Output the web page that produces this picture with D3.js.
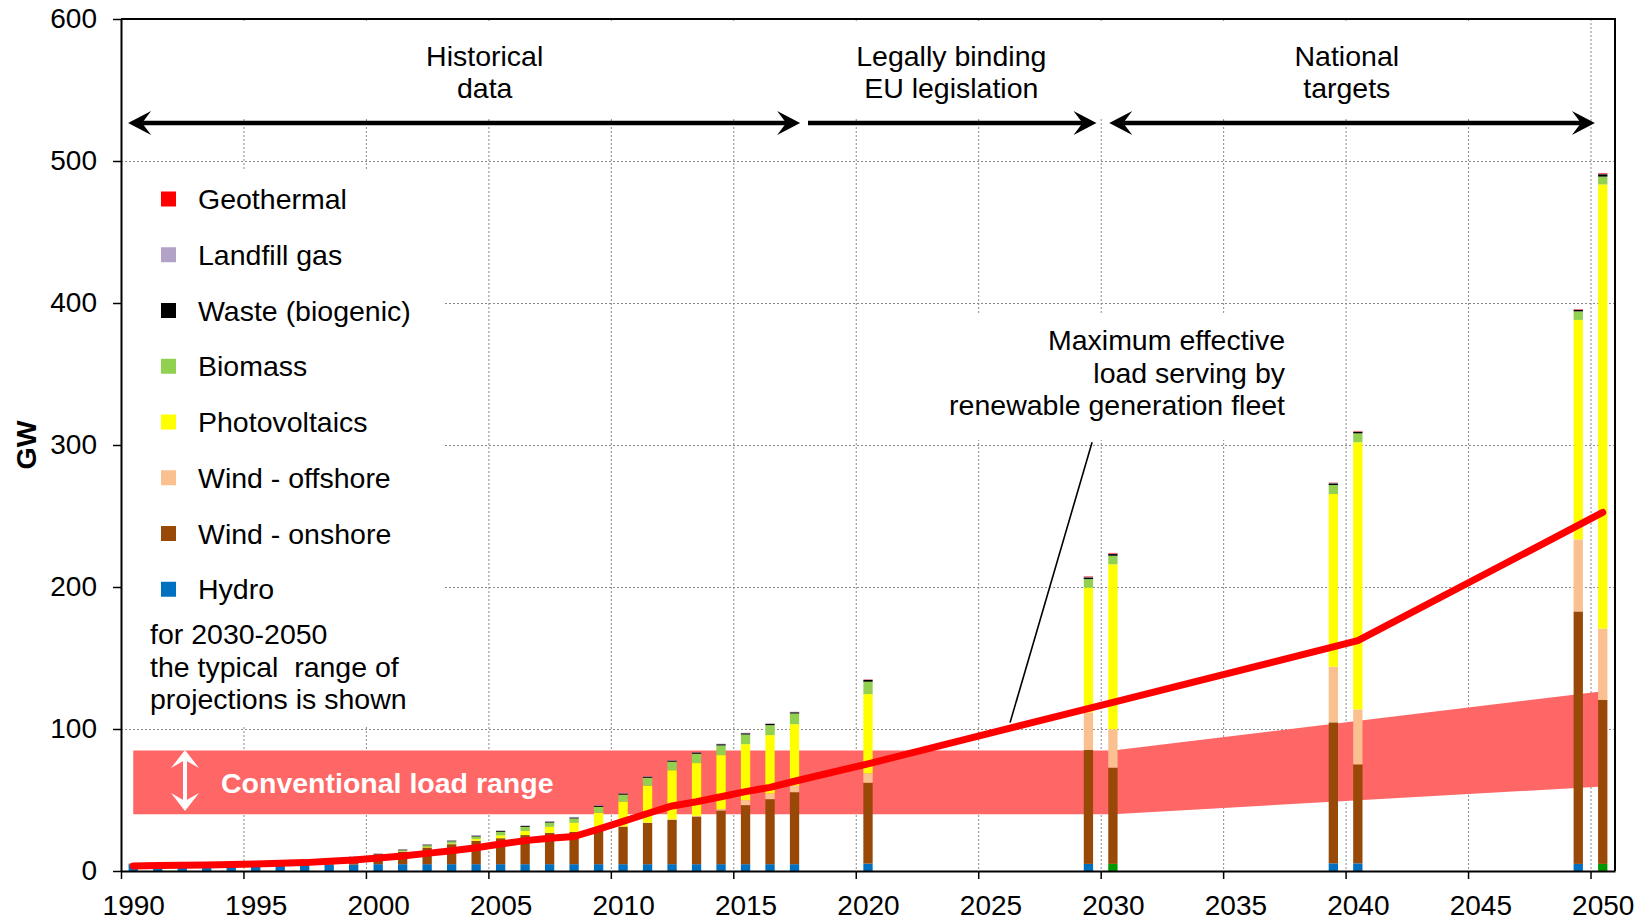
<!DOCTYPE html>
<html>
<head>
<meta charset="utf-8">
<script src="https://cdn.jsdelivr.net/npm/d3@7"></script>
<style>
  html, body { margin: 0; padding: 0; background: #ffffff; }
  svg { display: block; font-family: "Liberation Sans", Arial, Helvetica, sans-serif; }
</style>
</head>
<body>
<svg id="chart" width="1649" height="921"></svg>
<script>
// ---------------------------------------------------------------
// Installed renewable capacity (GW) per bar, stacked bottom to top
// ---------------------------------------------------------------
const barYears = [1990, 1991, 1992, 1993, 1994, 1995, 1996, 1997, 1998, 1999,
                  2000, 2001, 2002, 2003, 2004, 2005, 2006, 2007, 2008, 2009,
                  2010, 2011, 2012, 2013, 2014, 2015, 2016, 2017,
                  2020, 2030, 2030, 2040, 2040, 2050, 2050];
// "year" = one bar for the calendar year, "low"/"high" = projection pair around the tick
const barCase = ["year", "year", "year", "year", "year", "year", "year", "year", "year", "year",
                 "year", "year", "year", "year", "year", "year", "year", "year", "year", "year",
                 "year", "year", "year", "year", "year", "year", "year", "year",
                 "year", "low", "high", "low", "high", "low", "high"];

const hydro      = [4.5, 4.5, 4.5, 4.5, 4.5, 4.5, 4.5, 4.5, 4.5, 4.5,
                    4.8, 4.8, 4.8, 4.8, 4.8, 4.8, 4.8, 4.8, 4.8, 4.8,
                    4.8, 4.8, 4.8, 4.8, 4.8, 4.8, 4.8, 4.8,
                    5.2, 5.0, 5.0, 5.4, 5.4, 5.0, 5.0];
const windOn     = [0.1, 0.1, 0.2, 0.3, 0.6, 1.1, 1.5, 2.1, 2.9, 4.4,
                    6.1, 8.8, 11.8, 14.1, 16.5, 18.3, 20.5, 22.1, 22.8, 25.9,
                    26.5, 29.1, 31.3, 33.6, 37.8, 41.6, 45.8, 50.7,
                    57.0, 80.2, 67.8, 99.3, 69.7, 177.8, 115.5];
const windOff    = [0, 0, 0, 0, 0, 0, 0, 0, 0, 0,
                    0, 0, 0, 0, 0, 0, 0, 0, 0, 0,
                    0.1, 0.2, 0.3, 0.5, 1.0, 3.5, 4.0, 4.5,
                    6.6, 26.5, 27.0, 39.2, 38.7, 50.7, 50.2];
const pv         = [0, 0, 0, 0, 0, 0, 0, 0, 0, 0.1,
                    0.1, 0.2, 0.3, 0.4, 1.2, 2.0, 2.8, 4.2, 6.3, 10.3,
                    17.5, 26.0, 34.5, 37.1, 38.0, 39.4, 41.1, 43.4,
                    55.8, 87.8, 116.2, 121.6, 188.1, 154.6, 312.8];
const biomass    = [0.1, 0.1, 0.1, 0.2, 0.2, 0.2, 0.3, 0.3, 0.4, 0.5,
                    0.6, 0.8, 1.2, 1.6, 1.8, 2.5, 3.0, 3.0, 3.1, 4.2,
                    4.9, 5.6, 6.1, 6.6, 6.8, 6.8, 7.0, 7.5,
                    8.7, 6.1, 6.0, 6.3, 6.3, 6.0, 5.5];
const waste      = [0.4, 0.4, 0.4, 0.4, 0.4, 0.5, 0.5, 0.5, 0.5, 0.5,
                    0.5, 0.5, 0.5, 0.5, 0.6, 0.6, 0.6, 0.7, 0.7, 0.8,
                    0.8, 0.8, 0.8, 0.9, 0.9, 0.9, 0.9, 0.9,
                    1.2, 1.2, 1.2, 1.2, 1.0, 1.0, 1.7];
const landfill   = [0.1, 0.1, 0.1, 0.1, 0.2, 0.2, 0.2, 0.2, 0.2, 0.2,
                    0.3, 0.3, 0.3, 0.3, 0.4, 0.4, 0.4, 0.4, 0.4, 0.4,
                    0.4, 0.4, 0.4, 0.3, 0.3, 0.3, 0.3, 0.3,
                    0.3, 0.4, 0.4, 0.3, 0.4, 0.4, 0.4];
const geothermal = [0, 0, 0, 0, 0, 0, 0, 0, 0, 0,
                    0, 0, 0, 0, 0, 0, 0, 0, 0.01, 0.01,
                    0.01, 0.01, 0.02, 0.03, 0.03, 0.03, 0.04, 0.04,
                    0.2, 0.3, 0.4, 0.2, 0.3, 0.3, 0.4];

// Maximum effective load served by the renewable fleet (GW)
const lineYears  = [1990, 1991, 1992, 1993, 1994, 1995, 1996, 1997, 1998, 1999,
                    2000, 2001, 2002, 2003, 2004, 2005, 2006, 2007, 2008, 2009,
                    2010, 2011, 2012, 2013, 2014, 2015, 2016, 2017,
                    2020, 2030, 2040, 2050];
const lineValues = [3.5, 3.8, 4.0, 4.2, 4.5, 4.9, 5.4, 5.9, 6.8, 7.7,
                    9.2, 10.6, 12.4, 14.3, 16.4, 19.0, 21.4, 23.0, 24.3, 29.5,
                    35.0, 40.5, 45.8, 48.8, 52.3, 55.9, 58.9, 63.2,
                    75.5, 118.7, 162.2, 252.5];

// Conventional load range (GW)
const bandYears = [1990, 2030, 2050];
const bandLow   = [40.0, 40.0, 59.5];
const bandHigh  = [84.8, 84.8, 126.6];

// Axis ticks
const yTicks = [0, 100, 200, 300, 400, 500, 600];
const xTicks = [1990, 1995, 2000, 2005, 2010, 2015, 2020, 2025, 2030, 2035, 2040, 2045, 2050];

// Series definitions (legend is listed top to bottom, stack is bottom to top)
const seriesKeys   = ["hydro", "windOn", "windOff", "pv", "biomass", "waste", "landfill", "geothermal"];
const seriesNames  = ["Hydro", "Wind - onshore", "Wind - offshore", "Photovoltaics", "Biomass",
                      "Waste (biogenic)", "Landfill gas", "Geothermal"];
const seriesValues = [hydro, windOn, windOff, pv, biomass, waste, landfill, geothermal];

// ---------------------------------------------------------------
// Styling
// ---------------------------------------------------------------
const colors = {
  hydro: "#0070c0", windOn: "#984807", windOff: "#fac090", pv: "#ffff00",
  biomass: "#92d050", waste: "#000000", landfill: "#b3a2c7", geothermal: "#ff0000"
};
const hydroAltColor = "#009a00";              // hydro segment of the "high" 2030/2050 bars
const hydroAltBars = new Set(["2030-high", "2050-high"]);
const FONT = 28.5;

// ---------------------------------------------------------------
// Scales
// ---------------------------------------------------------------
const plot = { left: 121, right: 1615, top: 19, bottom: 871 };
const x = d3.scaleLinear().domain([1990, 2051]).range([plot.left, plot.right]);
const y = d3.scaleLinear().domain([0, 600]).range([plot.bottom, plot.top]);
const barWidthYears = 0.38;
const barW = x(1990 + barWidthYears) - x(1990);

// bar centre in year units
function barPos(year, kind) {
  if (kind === "low") return year - 0.5;
  return year + 0.5;
}

const rows = barYears.map((yr, i) => {
  const r = { year: yr, kind: barCase[i], pos: barPos(yr, barCase[i]) };
  seriesKeys.forEach((k, j) => { r[k] = seriesValues[j][i]; });
  return r;
});
const stacked = d3.stack().keys(seriesKeys)(rows);

const svg = d3.select("#chart");

// ---------------------------------------------------------------
// Gridlines
// ---------------------------------------------------------------
const grid = svg.append("g").attr("class", "grid")
  .attr("stroke", "#8a8a8a").attr("stroke-width", 1).attr("stroke-dasharray", "2,2");
grid.selectAll("line.h").data(yTicks.filter(v => v > 0 && v < 600)).join("line")
  .attr("class", "h")
  .attr("x1", plot.left).attr("x2", plot.right)
  .attr("y1", d => y(d) + 0.5).attr("y2", d => y(d) + 0.5);
grid.selectAll("line.v").data(xTicks.filter(v => v > 1990)).join("line")
  .attr("class", "v")
  .attr("x1", d => x(d) + 0.5).attr("x2", d => x(d) + 0.5)
  .attr("y1", plot.top).attr("y2", plot.bottom);

// white panels behind the text blocks
svg.append("rect").attr("x", plot.left + 1).attr("y", 23)
  .attr("width", 1583 - plot.left).attr("height", 94).attr("fill", "#fff");
svg.append("rect").attr("x", plot.left + 1).attr("y", 170)
  .attr("width", 444 - plot.left).attr("height", 555).attr("fill", "#fff");
svg.append("rect").attr("x", 945).attr("y", 313)
  .attr("width", 348).attr("height", 127).attr("fill", "#fff");

// ---------------------------------------------------------------
// Conventional load band
// ---------------------------------------------------------------
const bandData = bandYears.map((yr, i) => ({ pos: yr + 0.5, lo: bandLow[i], hi: bandHigh[i] }));
svg.append("path")
  .datum(bandData)
  .attr("fill", "#ff6666")
  .attr("d", d3.area().x(d => x(d.pos)).y0(d => y(d.lo)).y1(d => y(d.hi)));

// ---------------------------------------------------------------
// Stacked bars
// ---------------------------------------------------------------
const bars = svg.append("g").attr("class", "bars");
stacked.forEach(layer => {
  bars.append("g")
    .selectAll("rect")
    .data(layer)
    .join("rect")
    .attr("x", d => x(d.data.pos) - barW / 2)
    .attr("width", barW)
    .attr("y", d => y(d[1]))
    .attr("height", d => Math.max(0, y(d[0]) - y(d[1])))
    .attr("fill", d => (layer.key === "hydro" && hydroAltBars.has(d.data.year + "-" + d.data.kind))
      ? hydroAltColor : colors[layer.key]);
});

// ---------------------------------------------------------------
// Annotation leader line
// ---------------------------------------------------------------
const leaderFrom = [2029.65, 302];
const leaderTo = [2026.3, 104.5];
svg.append("line")
  .attr("x1", x(leaderFrom[0])).attr("y1", y(leaderFrom[1]))
  .attr("x2", x(leaderTo[0])).attr("y2", y(leaderTo[1]))
  .attr("stroke", "#000").attr("stroke-width", 1.6);

// ---------------------------------------------------------------
// Effective load line
// ---------------------------------------------------------------
const lineData = lineYears.map((yr, i) => ({ pos: yr + 0.5, v: lineValues[i] }));
svg.append("path")
  .datum(lineData)
  .attr("fill", "none")
  .attr("stroke", "#ff0000")
  .attr("stroke-width", 7)
  .attr("stroke-linejoin", "round")
  .attr("stroke-linecap", "round")
  .attr("d", d3.line().x(d => x(d.pos)).y(d => y(d.v)));

// ---------------------------------------------------------------
// Axes and frame
// ---------------------------------------------------------------
const yAxis = svg.append("g")
  .attr("transform", `translate(${plot.left},0)`)
  .call(d3.axisLeft(y).tickValues(yTicks).tickSize(8).tickSizeOuter(0).tickPadding(16));
const xAxis = svg.append("g")
  .attr("transform", `translate(0,${plot.bottom})`)
  .call(d3.axisBottom(x).tickValues(xTicks).tickFormat(d3.format("d"))
    .tickSize(8).tickSizeOuter(0).tickPadding(16));
[yAxis, xAxis].forEach(g => {
  g.select(".domain").attr("stroke", "#000").attr("stroke-width", 2);
  g.selectAll(".tick line").attr("stroke", "#000").attr("stroke-width", 1.5);
  g.selectAll(".tick text").attr("fill", "#000").attr("font-size", 28)
    .attr("font-family", "'Liberation Sans', Arial, sans-serif");
});
// year labels sit in the middle of their year
xAxis.selectAll(".tick text").attr("x", x(1990.5) - x(1990));

svg.append("path")
  .attr("d", `M${plot.left},${plot.top}H${plot.right}V${plot.bottom}`)
  .attr("fill", "none").attr("stroke", "#000").attr("stroke-width", 2);

svg.append("text")
  .attr("transform", `translate(36,${(plot.top + plot.bottom) / 2}) rotate(-90)`)
  .attr("text-anchor", "middle")
  .attr("font-size", FONT).attr("font-weight", "bold")
  .text("GW");

// ---------------------------------------------------------------
// Period arrows and headers
// ---------------------------------------------------------------
function head(g, tipX, tipY, dir, len, half, notch, color) {
  // stealth arrowhead, horizontal; dir +1 points right, -1 points left
  g.append("path")
    .attr("d", `M${tipX},${tipY}L${tipX - dir * len},${tipY - half}L${tipX - dir * notch},${tipY}L${tipX - dir * len},${tipY + half}Z`)
    .attr("fill", color);
}
function headV(g, tipX, tipY, dir, len, half, notch, color) {
  // stealth arrowhead, vertical; dir +1 points down, -1 points up
  g.append("path")
    .attr("d", `M${tipX},${tipY}L${tipX - half},${tipY - dir * len}L${tipX},${tipY - dir * notch}L${tipX + half},${tipY - dir * len}Z`)
    .attr("fill", color);
}

const periods = [
  { from: 1990.29, to: 2017.73, startHead: true,  endHead: true,  label: ["Historical", "data"], cx: 2004.85 },
  { from: 2018.05, to: 2029.83, startHead: false, endHead: true,  label: ["Legally binding", "EU legislation"], cx: 2023.9 },
  { from: 2030.35, to: 2050.18, startHead: true,  endHead: true,  label: ["National", "targets"], cx: 2040.05 }
];
const arrowY = 123;
const arrows = svg.append("g");
periods.forEach(p => {
  const x1 = x(p.from), x2 = x(p.to);
  arrows.append("line")
    .attr("x1", p.startHead ? x1 + 14 : x1).attr("x2", p.endHead ? x2 - 14 : x2)
    .attr("y1", arrowY).attr("y2", arrowY)
    .attr("stroke", "#000").attr("stroke-width", 4.5);
  if (p.startHead) head(arrows, x1, arrowY, -1, 23, 12, 14, "#000");
  if (p.endHead) head(arrows, x2, arrowY, 1, 23, 12, 14, "#000");
  const t = svg.append("text").attr("text-anchor", "middle").attr("font-size", FONT);
  t.append("tspan").attr("x", x(p.cx)).attr("y", 66).text(p.label[0]);
  t.append("tspan").attr("x", x(p.cx)).attr("y", 98).text(p.label[1]);
});

// ---------------------------------------------------------------
// Line annotation
// ---------------------------------------------------------------
const ann = svg.append("text").attr("text-anchor", "end").attr("font-size", FONT);
["Maximum effective", "load serving by", "renewable generation fleet"].forEach((s, i) => {
  ann.append("tspan").attr("x", 1285).attr("y", 350 + i * 32.5).text(s);
});

// ---------------------------------------------------------------
// Conventional load range label with white double arrow
// ---------------------------------------------------------------
const wa = svg.append("g");
const waX = 185, waTop = 750, waBot = 811;
wa.append("line").attr("x1", waX).attr("x2", waX).attr("y1", waTop + 10).attr("y2", waBot - 10)
  .attr("stroke", "#fff").attr("stroke-width", 4);
headV(wa, waX, waTop, -1, 18, 14, 10, "#fff");
headV(wa, waX, waBot, 1, 18, 14, 10, "#fff");
svg.append("text").attr("x", 221).attr("y", 793)
  .attr("font-size", FONT).attr("font-weight", "bold").attr("fill", "#fff")
  .text("Conventional load range");

// ---------------------------------------------------------------
// Legend
// ---------------------------------------------------------------
const legend = svg.append("g").attr("transform", "translate(161,199)");
const legendOrder = seriesKeys.slice().reverse();
const legendNames = seriesNames.slice().reverse();
legendOrder.forEach((k, i) => {
  const g = legend.append("g").attr("transform", `translate(0,${i * 55.75})`);
  g.append("rect").attr("x", 0).attr("y", -7.5).attr("width", 15).attr("height", 15).attr("fill", colors[k]);
  g.append("text").attr("x", 37).attr("y", 10).attr("font-size", FONT).text(legendNames[i]);
});
const note = svg.append("text").attr("font-size", FONT);
["for 2030-2050", "the typical\u00a0 range of", "projections is shown"].forEach((s, i) => {
  note.append("tspan").attr("x", 150).attr("y", 644 + i * 32.5).text(s);
});
</script>
</body>
</html>
